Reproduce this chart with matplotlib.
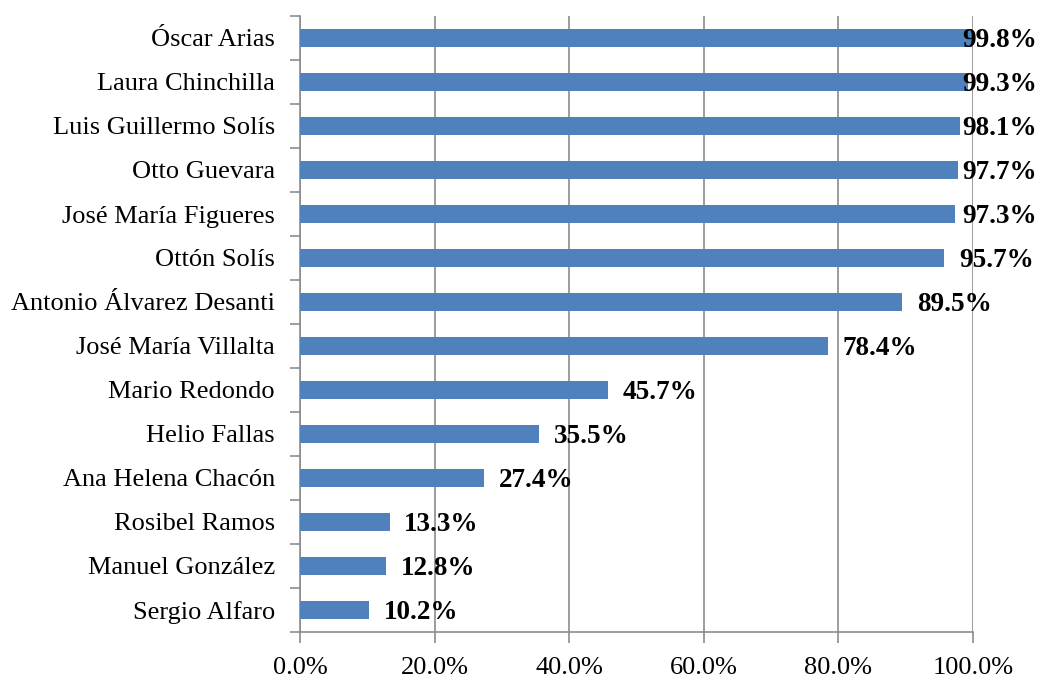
import matplotlib
matplotlib.use("Agg")
import matplotlib.pyplot as plt
import numpy as np

# data, top to bottom as shown
names = ["Óscar Arias", "Laura Chinchilla", "Luis Guillermo Solís", "Otto Guevara",
         "José María Figueres", "Ottón Solís", "Antonio Álvarez Desanti",
         "José María Villalta", "Mario Redondo", "Helio Fallas", "Ana Helena Chacón",
         "Rosibel Ramos", "Manuel González", "Sergio Alfaro"]
values = [99.8, 99.3, 98.1, 97.7, 97.3, 95.7, 89.5, 78.4, 45.7, 35.5, 27.4, 13.3, 12.8, 10.2]
xticks = [0, 20, 40, 60, 80, 100]

plt.rcParams['font.family'] = ['Liberation Serif', 'DejaVu Serif']

fig = plt.figure(figsize=(10.38, 6.84), dpi=100)
ax = fig.add_axes([300 / 1038, 52 / 684, 673 / 1038, 616 / 684])

y = np.arange(len(names))[::-1]
ax.barh(y, values, height=0.41, color="#4F81BD", zorder=3)

# value labels, pushed right of the bar but kept inside the figure
for yi, v in zip(y, values):
    ax.text(min(v + 2.2, 98.4), yi - 0.06, f"{v:.1f}%", va="center", ha="left",
            fontsize=19.5, fontweight="bold", zorder=4)

ax.set_xlim(0, 100)
ax.set_ylim(-0.5, len(names) - 0.5)
ax.set_xticks(xticks)
ax.set_xticklabels([f"{t:.1f}%" for t in xticks], fontsize=19)
ax.set_yticks(y)
ax.set_yticklabels(names, fontsize=19)
ax.set_yticks(np.arange(len(names) + 1) - 0.5, minor=True)

ax.grid(axis="x", color="#8c8c8c", linewidth=1.2, zorder=0)
for s in ["top", "right"]:
    ax.spines[s].set_visible(False)
for s in ["left", "bottom"]:
    ax.spines[s].set_color("#8c8c8c")
    ax.spines[s].set_linewidth(1.2)

ax.tick_params(axis="y", which="major", length=0, pad=18)
ax.tick_params(axis="y", which="minor", length=7, color="#8c8c8c", width=1.2)
ax.tick_params(axis="x", length=8, color="#8c8c8c", width=1.2, pad=10)

fig.savefig("out.png", dpi=100)
